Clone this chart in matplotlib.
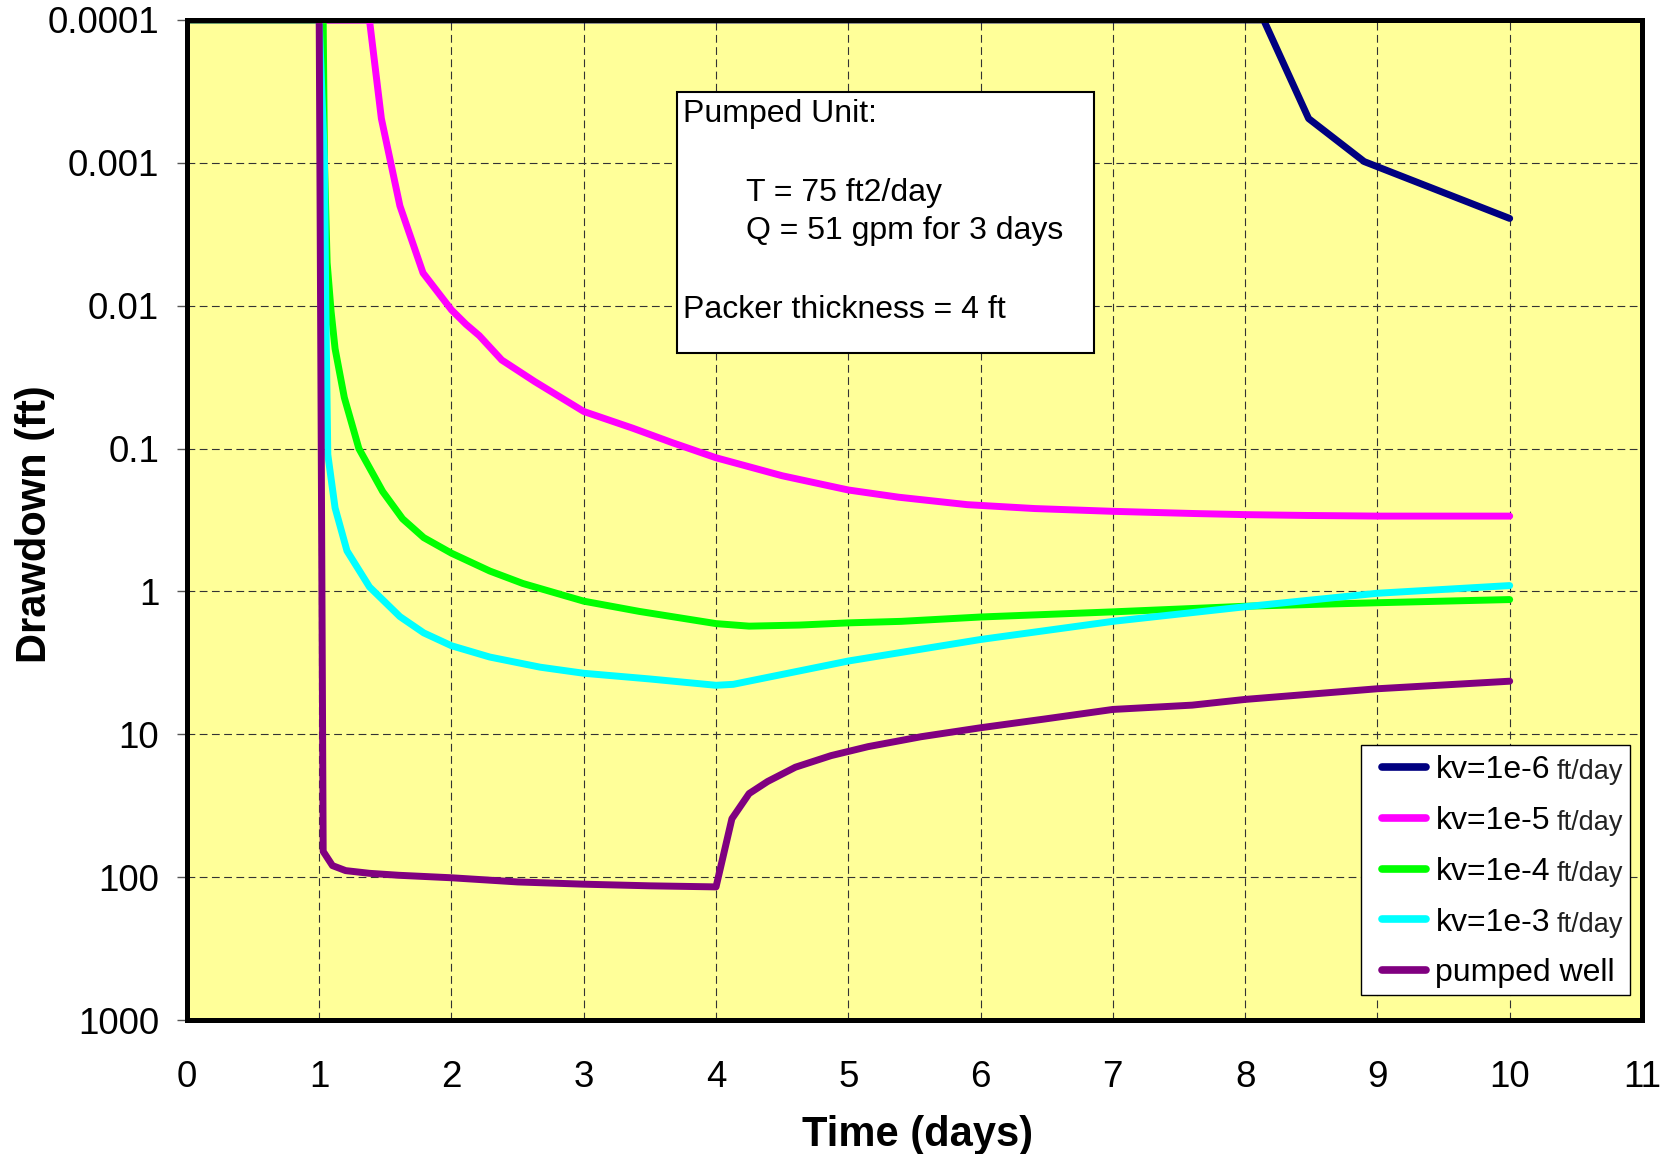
import matplotlib
matplotlib.use("Agg")
import matplotlib.pyplot as plt
from matplotlib.patches import Rectangle
from matplotlib.ticker import FixedLocator, NullLocator

plt.rcParams["font.family"] = ["Liberation Sans", "DejaVu Sans"]

# ===== data =====
# values of 1e-4 sit on the top edge of the (inverted) log axis

t_kv6 = [0, 8.14, 8.48, 8.9, 10.0]
s_kv6 = [1e-4, 1e-4, 4.9e-4, 9.8e-4, 2.45e-3]

t_kv5 = [0, 1.38, 1.47, 1.61, 1.785, 2.0, 2.11, 2.21, 2.38, 2.63, 3.0, 3.37,
         3.67, 4.0, 4.5, 5.0, 5.38, 5.9, 6.41, 7.0, 7.62, 8.0, 8.47, 9.0,
         10.0]
s_kv5 = [1e-4, 1e-4, 4.9e-4, 2.0e-3, 5.9e-3, 0.0107, 0.0135, 0.0162, 0.024,
         0.034, 0.055, 0.072, 0.091, 0.116, 0.155, 0.195, 0.219, 0.247,
         0.263, 0.275, 0.285, 0.29, 0.294, 0.297, 0.297]

t_kv4 = [0, 1.03, 1.04, 1.06, 1.09, 1.12, 1.19, 1.3, 1.48, 1.63, 1.79, 2.0,
         2.29, 2.54, 3.0, 3.42, 4.0, 4.25, 4.63, 5.0, 5.4, 6.0, 7.0, 8.0,
         9.0, 10.0]
s_kv4 = [1e-4, 1e-4, 1e-3, 5e-3, 0.011, 0.02, 0.044, 0.1, 0.2, 0.31, 0.42,
         0.54, 0.72, 0.88, 1.17, 1.38, 1.68, 1.75, 1.72, 1.66, 1.62, 1.51,
         1.39, 1.27, 1.2, 1.14]

t_kv3 = [1.0, 1.04, 1.05, 1.065, 1.12, 1.21, 1.38, 1.61, 1.79, 2.0, 2.29,
         2.67, 3.0, 3.5, 4.0, 4.13, 5.0, 6.0, 7.0, 8.0, 9.0, 10.0]
s_kv3 = [1e-4, 1e-3, 0.01, 0.11, 0.26, 0.52, 0.93, 1.5, 1.95, 2.4, 2.88,
         3.39, 3.74, 4.1, 4.54, 4.47, 3.07, 2.17, 1.62, 1.28, 1.03, 0.91]

t_well = [1.0, 1.03, 1.1, 1.2, 1.38, 1.6, 2.0, 2.5, 3.0, 3.5, 4.0, 4.12,
          4.25, 4.39, 4.6, 4.87, 5.15, 5.55, 6.0, 6.47, 7.0, 7.6, 8.0, 9.0,
          10.0]
s_well = [1e-4, 66, 83, 90, 94, 97, 101, 108, 112, 115, 117, 39, 26, 21.4,
          17, 14.1, 12.2, 10.4, 9.0, 7.85, 6.7, 6.25, 5.7, 4.8, 4.25]

x_ticks = list(range(0, 12))
y_ticks = [1e-4, 1e-3, 1e-2, 0.1, 1, 10, 100, 1000]
y_tick_labels = ["0.0001", "0.001", "0.01", "0.1", "1", "10", "100", "1000"]

series = [
    (t_kv6, s_kv6, "#000080", "kv=1e-6"),
    (t_kv5, s_kv5, "#FF00FF", "kv=1e-5"),
    (t_kv4, s_kv4, "#00FF00", "kv=1e-4"),
    (t_kv3, s_kv3, "#00FFFF", "kv=1e-3"),
    (t_well, s_well, "#800080", "pumped well"),
]
units = ["ft/day", "ft/day", "ft/day", "ft/day", ""]

# ===== figure =====
fig = plt.figure(figsize=(16.69, 11.54), dpi=100)
ax = fig.add_axes([0.112, 0.1161, 0.8718, 0.8666])
ax.set_facecolor("#FFFF99")

for i, (t, s, c, lab) in enumerate(series):
    ax.plot(t, s, color=c, lw=5, label=lab, solid_capstyle="round",
            solid_joinstyle="round", zorder=3 + i * 0.1)

ax.set_yscale("log")
ax.set_ylim(1000, 1e-4)
ax.set_xlim(0, 11)
ax.xaxis.set_major_locator(FixedLocator(x_ticks))
ax.yaxis.set_major_locator(FixedLocator(y_ticks))
ax.yaxis.set_minor_locator(NullLocator())
ax.set_yticklabels(y_tick_labels)

ax.tick_params(axis="y", direction="out", length=7, width=1, color="#555555",
               pad=13, labelsize=26.5)
ax.tick_params(axis="x", length=0, pad=29, labelsize=26.5)

ax.grid(True, color="#333333", lw=0.8, linestyle=(0, (7, 4)), zorder=1)
ax.set_axisbelow(True)
for sp in ax.spines.values():
    sp.set_linewidth(3.6)
    sp.set_color("black")
    sp.set_zorder(10)

ax.set_xlabel("Time (days)", fontsize=30, fontweight="bold", va="center")
ax.xaxis.set_label_coords(0.502, -0.1153)
ax.set_ylabel("Drawdown (ft)", fontsize=30, fontweight="bold", va="center")
ax.yaxis.set_label_coords(-0.1045, 0.496)

# info box
ax.add_patch(Rectangle((0.337, 0.6673), 0.2864, 0.261, transform=ax.transAxes,
                       facecolor="white", edgecolor="black", lw=1.5, zorder=6))
box_text = [
    (0.3406, 0.8983, "Pumped Unit:"),
    (0.3845, 0.8193, "T = 75 ft2/day"),
    (0.3845, 0.7810, "Q = 51 gpm for 3 days"),
    (0.3406, 0.7017, "Packer thickness = 4 ft"),
]
for x, y, s in box_text:
    ax.text(x, y, s, transform=ax.transAxes, fontsize=23, va="baseline",
            ha="left", zorder=7)

# legend: frame drawn separately so the padding matches the original
ax.add_patch(Rectangle((0.807, 0.025), 0.1849, 0.25, transform=ax.transAxes,
                       facecolor="white", edgecolor="black", lw=1.0,
                       zorder=7.5))
leg = ax.legend(loc="center left", bbox_to_anchor=(0.821, 0.1483),
                borderaxespad=0, borderpad=0, fontsize=23, frameon=False,
                handlelength=1.38, handletextpad=0.31, labelspacing=0.652)
leg.set_zorder(8)
for h in leg.get_lines():
    h.set_linewidth(5.5)
for txt, u in zip(leg.get_texts(), units):
    if u:
        ax.annotate(u, xy=(1, 0), xycoords=txt, xytext=(5, 0),
                    textcoords="offset points", fontsize=19.5, va="bottom",
                    ha="left", color="#222222", zorder=9,
                    annotation_clip=False)

fig.savefig("out.png", dpi=100)
